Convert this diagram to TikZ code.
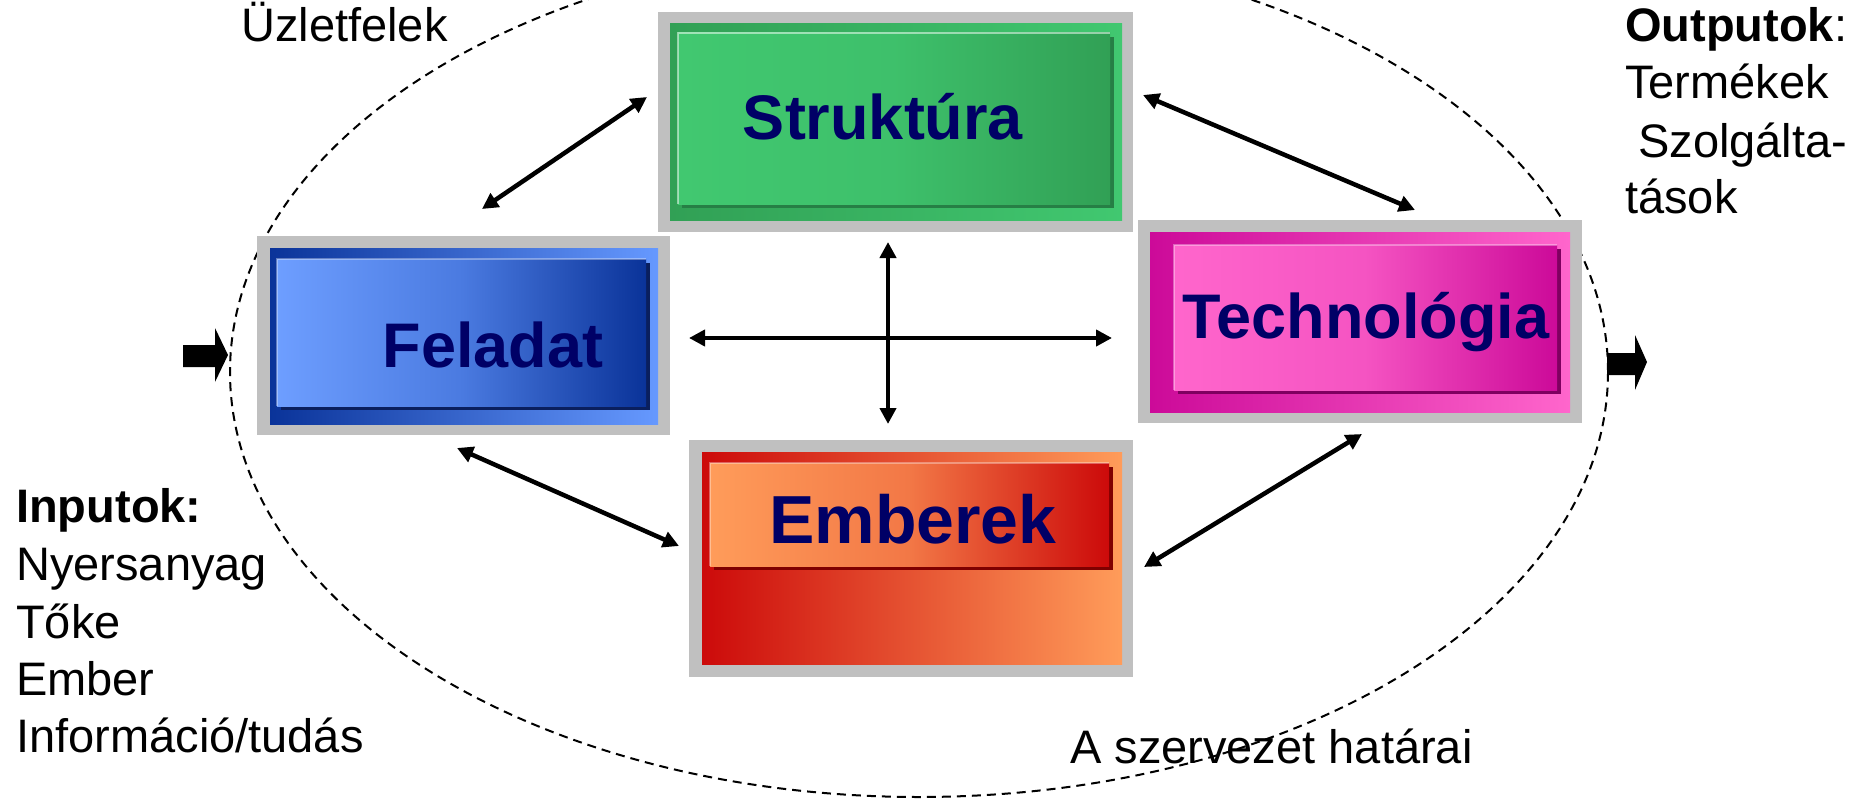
\documentclass[tikz,border=0pt]{standalone}
\usepackage{fontspec}
\setmainfont{Liberation Sans}
\usetikzlibrary{arrows.meta}
\definecolor{framegray}{HTML}{C0C0C0}
\definecolor{navytext}{HTML}{000066}
\definecolor{grdark}{HTML}{31A055}
\definecolor{grlight}{HTML}{41C870}
\definecolor{grshadow}{HTML}{267F45}
\definecolor{bldark}{HTML}{0A3399}
\definecolor{bllight}{HTML}{6699FF}
\definecolor{blshadow}{HTML}{0A1F5E}
\definecolor{rddark}{HTML}{CC0A0A}
\definecolor{rdlight}{HTML}{FF9C5A}
\definecolor{rdshadow}{HTML}{7F0000}
\definecolor{pkdark}{HTML}{CC0A99}
\definecolor{pklight}{HTML}{FF66CC}
\definecolor{pkshadow}{HTML}{7F0060}
\begin{document}
\begin{tikzpicture}[x=1pt,y=-1pt,
  graybox/.style={fill=framegray, draw=none, inner sep=0pt, outer sep=0pt},
  conn/.style={line width=4.5pt, {Triangle[length=16pt,width=16pt]}-{Triangle[length=16pt,width=16pt]}},
  boxlabel/.style={text=navytext, font=\bfseries\fontsize{63}{63}\selectfont, anchor=base, inner sep=0pt},
  plaintext/.style={font=\fontsize{47}{57}\selectfont, anchor=base west, inner sep=0pt},
  highlight/.style={draw=white, draw opacity=0.35, line width=2pt},
  boundary/.style={draw=black, line width=2pt, dash pattern=on 9pt off 6pt},
  blockarrow/.style={fill=black, draw=none}
  ]
\useasboundingbox (0,0) rectangle (1860,800);
\clip (0,0) rectangle (1860,800);
\fill[white] (0,0) rectangle (1860,800);

% organisation boundary
\draw[boundary] (919,372) ellipse [x radius=689pt, y radius=425pt];

% ---------- Feladat ----------
\node[graybox, minimum width=413pt, minimum height=199pt] (fel) at (463.5,335.5) {};
\shade[left color=bldark, right color=bllight] (270,248) rectangle (658,424);
\fill[blshadow] (281,263) rectangle (650,410);
\shade[left color=bllight!95!white, right color=bldark, middle color=bllight!70!bldark] (277,259) rectangle (646,406);
\draw[highlight] (277,406) -- (277,259) -- (646,259);
\node[boxlabel] (fellab) at (493,367) {Feladat};

% ---------- Struktura ----------
\node[graybox, minimum width=475pt, minimum height=220pt] (str) at (895.5,122) {};
\shade[left color=grdark, right color=grlight] (670,24) rectangle (1122,220);
\fill[grshadow] (682,37) rectangle (1114,208);
\shade[left color=grlight, right color=grdark, middle color=grlight!80!grdark] (678,33) rectangle (1110,204);
\draw[highlight, draw opacity=0.5] (678,204) -- (678,33) -- (1110,33);
\node[boxlabel] (strlab) at (883,139) {Struktúra};

% ---------- Technologia ----------
\node[graybox, minimum width=444pt, minimum height=203pt] (tech) at (1360,321.5) {};
\shade[left color=pkdark, right color=pklight] (1150,232) rectangle (1570,412);
\fill[pkshadow] (1178,249) rectangle (1561,394);
\shade[left color=pklight, right color=pkdark, middle color=pklight!80!pkdark] (1174,245) rectangle (1557,390);
\draw[highlight] (1174,390) -- (1174,245) -- (1557,245);
\node[boxlabel] (techlab) at (1366,338) {Technológia};

% ---------- Emberek ----------
\node[graybox, minimum width=444pt, minimum height=237pt] (emb) at (911,558.5) {};
\shade[left color=rddark, right color=rdlight] (702,452) rectangle (1122,664);
\fill[rdshadow] (714,467) rectangle (1113,570);
\shade[left color=rdlight, right color=rddark, middle color=rdlight!75!rddark] (710,463) rectangle (1109,566);
\draw[draw=white, draw opacity=0.35, line width=2pt] (710,566) -- (710,463) -- (1109,463);
\node[boxlabel, font=\bfseries\fontsize{68}{68}\selectfont] (emblab) at (913,543) {Emberek};

% ---------- connectors ----------
\coordinate (fsA) at (482,209);
\coordinate (fsB) at (647,97);
\coordinate (stA) at (1143,95);
\coordinate (stB) at (1415,210);
\coordinate (feA) at (457,448);
\coordinate (feB) at (679,546);
\coordinate (teA) at (1362,434);
\coordinate (teB) at (1144,567);
\coordinate (hA) at (689,338);
\coordinate (hB) at (1112,338);
\coordinate (vA) at (888,242);
\coordinate (vB) at (888,424);
\draw[conn] (fsA) -- (fsB);
\draw[conn] (stA) -- (stB);
\draw[conn] (feA) -- (feB);
\draw[conn] (teA) -- (teB);
\draw[conn] (hA) -- (hB);
\draw[conn] (vA) -- (vB);

% ---------- input / output block arrows ----------
\fill[blockarrow] (183,345) -- (215,345) -- (215,328) -- (228,355) -- (215,382) -- (215,367) -- (183,367) -- cycle;
\fill[blockarrow] (1607,353) -- (1635,353) -- (1635,335) -- (1647,362) -- (1635,390) -- (1635,375) -- (1607,375) -- cycle;

% ---------- texts ----------
\node[plaintext] (uzlet) at (241,42) {Üzletfelek};
\node[plaintext, font=\bfseries\fontsize{47}{57}\selectfont] (inp) at (16,522) {Inputok:};
\node[plaintext] (in1) at (16,580) {Nyersanyag};
\node[plaintext] (in2) at (16,638) {Tőke};
\node[plaintext] (in3) at (16,695) {Ember};
\node[plaintext] (in4) at (16,752) {Információ/tudás};
\node[plaintext] (outp) at (1625,42) {\textbf{Outputok}:};
\node[plaintext] (out1) at (1625,98) {Termékek};
\node[plaintext] (out2) at (1638,157) {Szolgálta-};
\node[plaintext] (out3) at (1625,213) {tások};
\node[plaintext] (hatar) at (1070,763) {A szervezet határai};
\end{tikzpicture}
\end{document}
